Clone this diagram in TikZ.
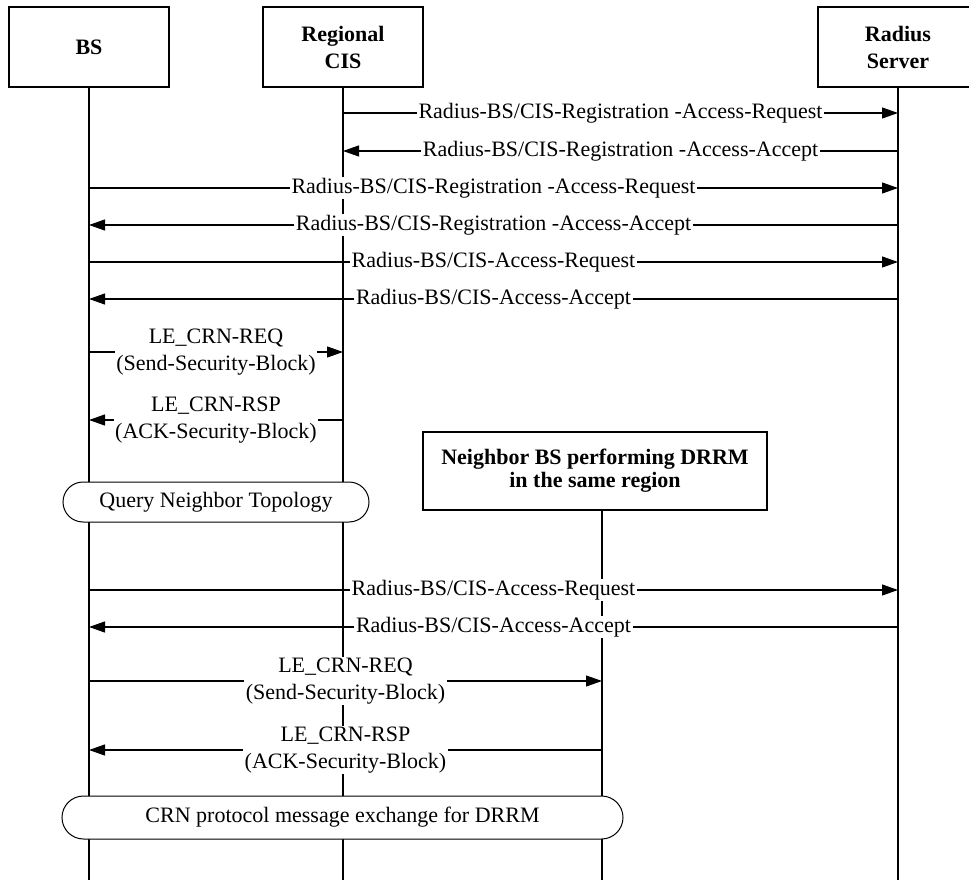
\documentclass[tikz,border=0pt]{standalone}
\usepackage{fontspec}
\setmainfont{Liberation Serif}
\usetikzlibrary{arrows.meta,shapes.misc}
\begin{document}
\begin{tikzpicture}[x=0.5pt,y=-0.5pt,
  entity/.style={draw,line width=0.6pt,fill=white,minimum width=80pt,minimum height=40pt,
    font=\fontsize{11}{13.5}\selectfont\bfseries,align=center,inner sep=0pt},
  life/.style={line width=1.1pt},
  thinlife/.style={line width=0.6pt},
  msg/.style={line width=0.55pt,-{Triangle[length=8pt,width=5.5pt]}},
  lbl/.style={fill=white,inner xsep=0.8pt,inner ysep=0.6pt,
    font=\fontsize{11}{13.5}\selectfont,align=center},
  phase/.style={draw,line width=0.5pt,fill=white,rounded rectangle,
    font=\fontsize{11}{13.5}\selectfont,inner sep=0pt}
]
\clip (0,0) rectangle (969,882);

% participants
\node[entity] (bs)  at (89,47)  {BS};
\node[entity] (cis) at (343,47) {Regional\\CIS};
\node[entity] (rad) at (898,47) {Radius\\Server};
\node[entity,minimum width=172pt,minimum height=39pt,
      font=\fontsize{11}{11.5}\selectfont\bfseries] (nbr) at (595,471)
      {Neighbor BS performing DRRM\\in the same region};

% lifelines
\coordinate (bottom) at (0,880);
\coordinate (nbrl) at (602,510.5);
\draw[life] (bs.south)  -- (bs |- bottom);
\draw[life] (cis.south) -- (cis |- bottom);
\draw[life] (rad.south) -- (rad |- bottom);
\draw[thinlife] (nbrl) -- (nbrl |- bottom);

% message rows
\coordinate (m1) at (0,113);
\coordinate (m2) at (0,151);
\coordinate (m3) at (0,188);
\coordinate (m4) at (0,225);
\coordinate (m5) at (0,262);
\coordinate (m6) at (0,299);
\coordinate (m7) at (0,352);
\coordinate (m8) at (0,420);
\coordinate (m9) at (0,590);
\coordinate (m10) at (0,627);
\coordinate (m11) at (0,681);
\coordinate (m12) at (0,750);

% registration of the regional CIS
\draw[msg] (cis |- m1) -- node[lbl]{Radius-BS/CIS-Registration -Access-Request} (rad |- m1);
\draw[msg] (rad |- m2) -- node[lbl]{Radius-BS/CIS-Registration -Access-Accept} (cis |- m2);

% registration and access of the BS
\draw[msg] (bs |- m3) -- node[lbl]{Radius-BS/CIS-Registration -Access-Request} (rad |- m3);
\draw[msg] (rad |- m4) -- node[lbl]{Radius-BS/CIS-Registration -Access-Accept} (bs |- m4);
\draw[msg] (bs |- m5) -- node[lbl]{Radius-BS/CIS-Access-Request} (rad |- m5);
\draw[msg] (rad |- m6) -- node[lbl]{Radius-BS/CIS-Access-Accept} (bs |- m6);

% security block exchange with the CIS
\draw[msg] (bs |- m7) -- node[lbl]{LE\_CRN-REQ\\(Send-Security-Block)} (cis |- m7);
\draw[msg] (cis |- m8) -- node[lbl]{LE\_CRN-RSP\\(ACK-Security-Block)} (bs |- m8);

\node[phase,minimum width=153pt,minimum height=20pt] (qnt) at (216,502) {Query Neighbor Topology};

% access and security block exchange with the neighbor BS
\draw[msg] (bs |- m9) -- node[lbl]{Radius-BS/CIS-Access-Request} (rad |- m9);
\draw[msg] (rad |- m10) -- node[lbl]{Radius-BS/CIS-Access-Accept} (bs |- m10);
\draw[msg] (bs |- m11) -- node[lbl]{LE\_CRN-REQ\\(Send-Security-Block)} (nbrl |- m11);
\draw[msg] (nbrl |- m12) -- node[lbl]{LE\_CRN-RSP\\(ACK-Security-Block)} (bs |- m12);

\node[phase,minimum width=280.5pt,minimum height=21.5pt] (crn) at (342.5,817.5)
  {CRN protocol message exchange for DRRM};
\end{tikzpicture}
\end{document}
